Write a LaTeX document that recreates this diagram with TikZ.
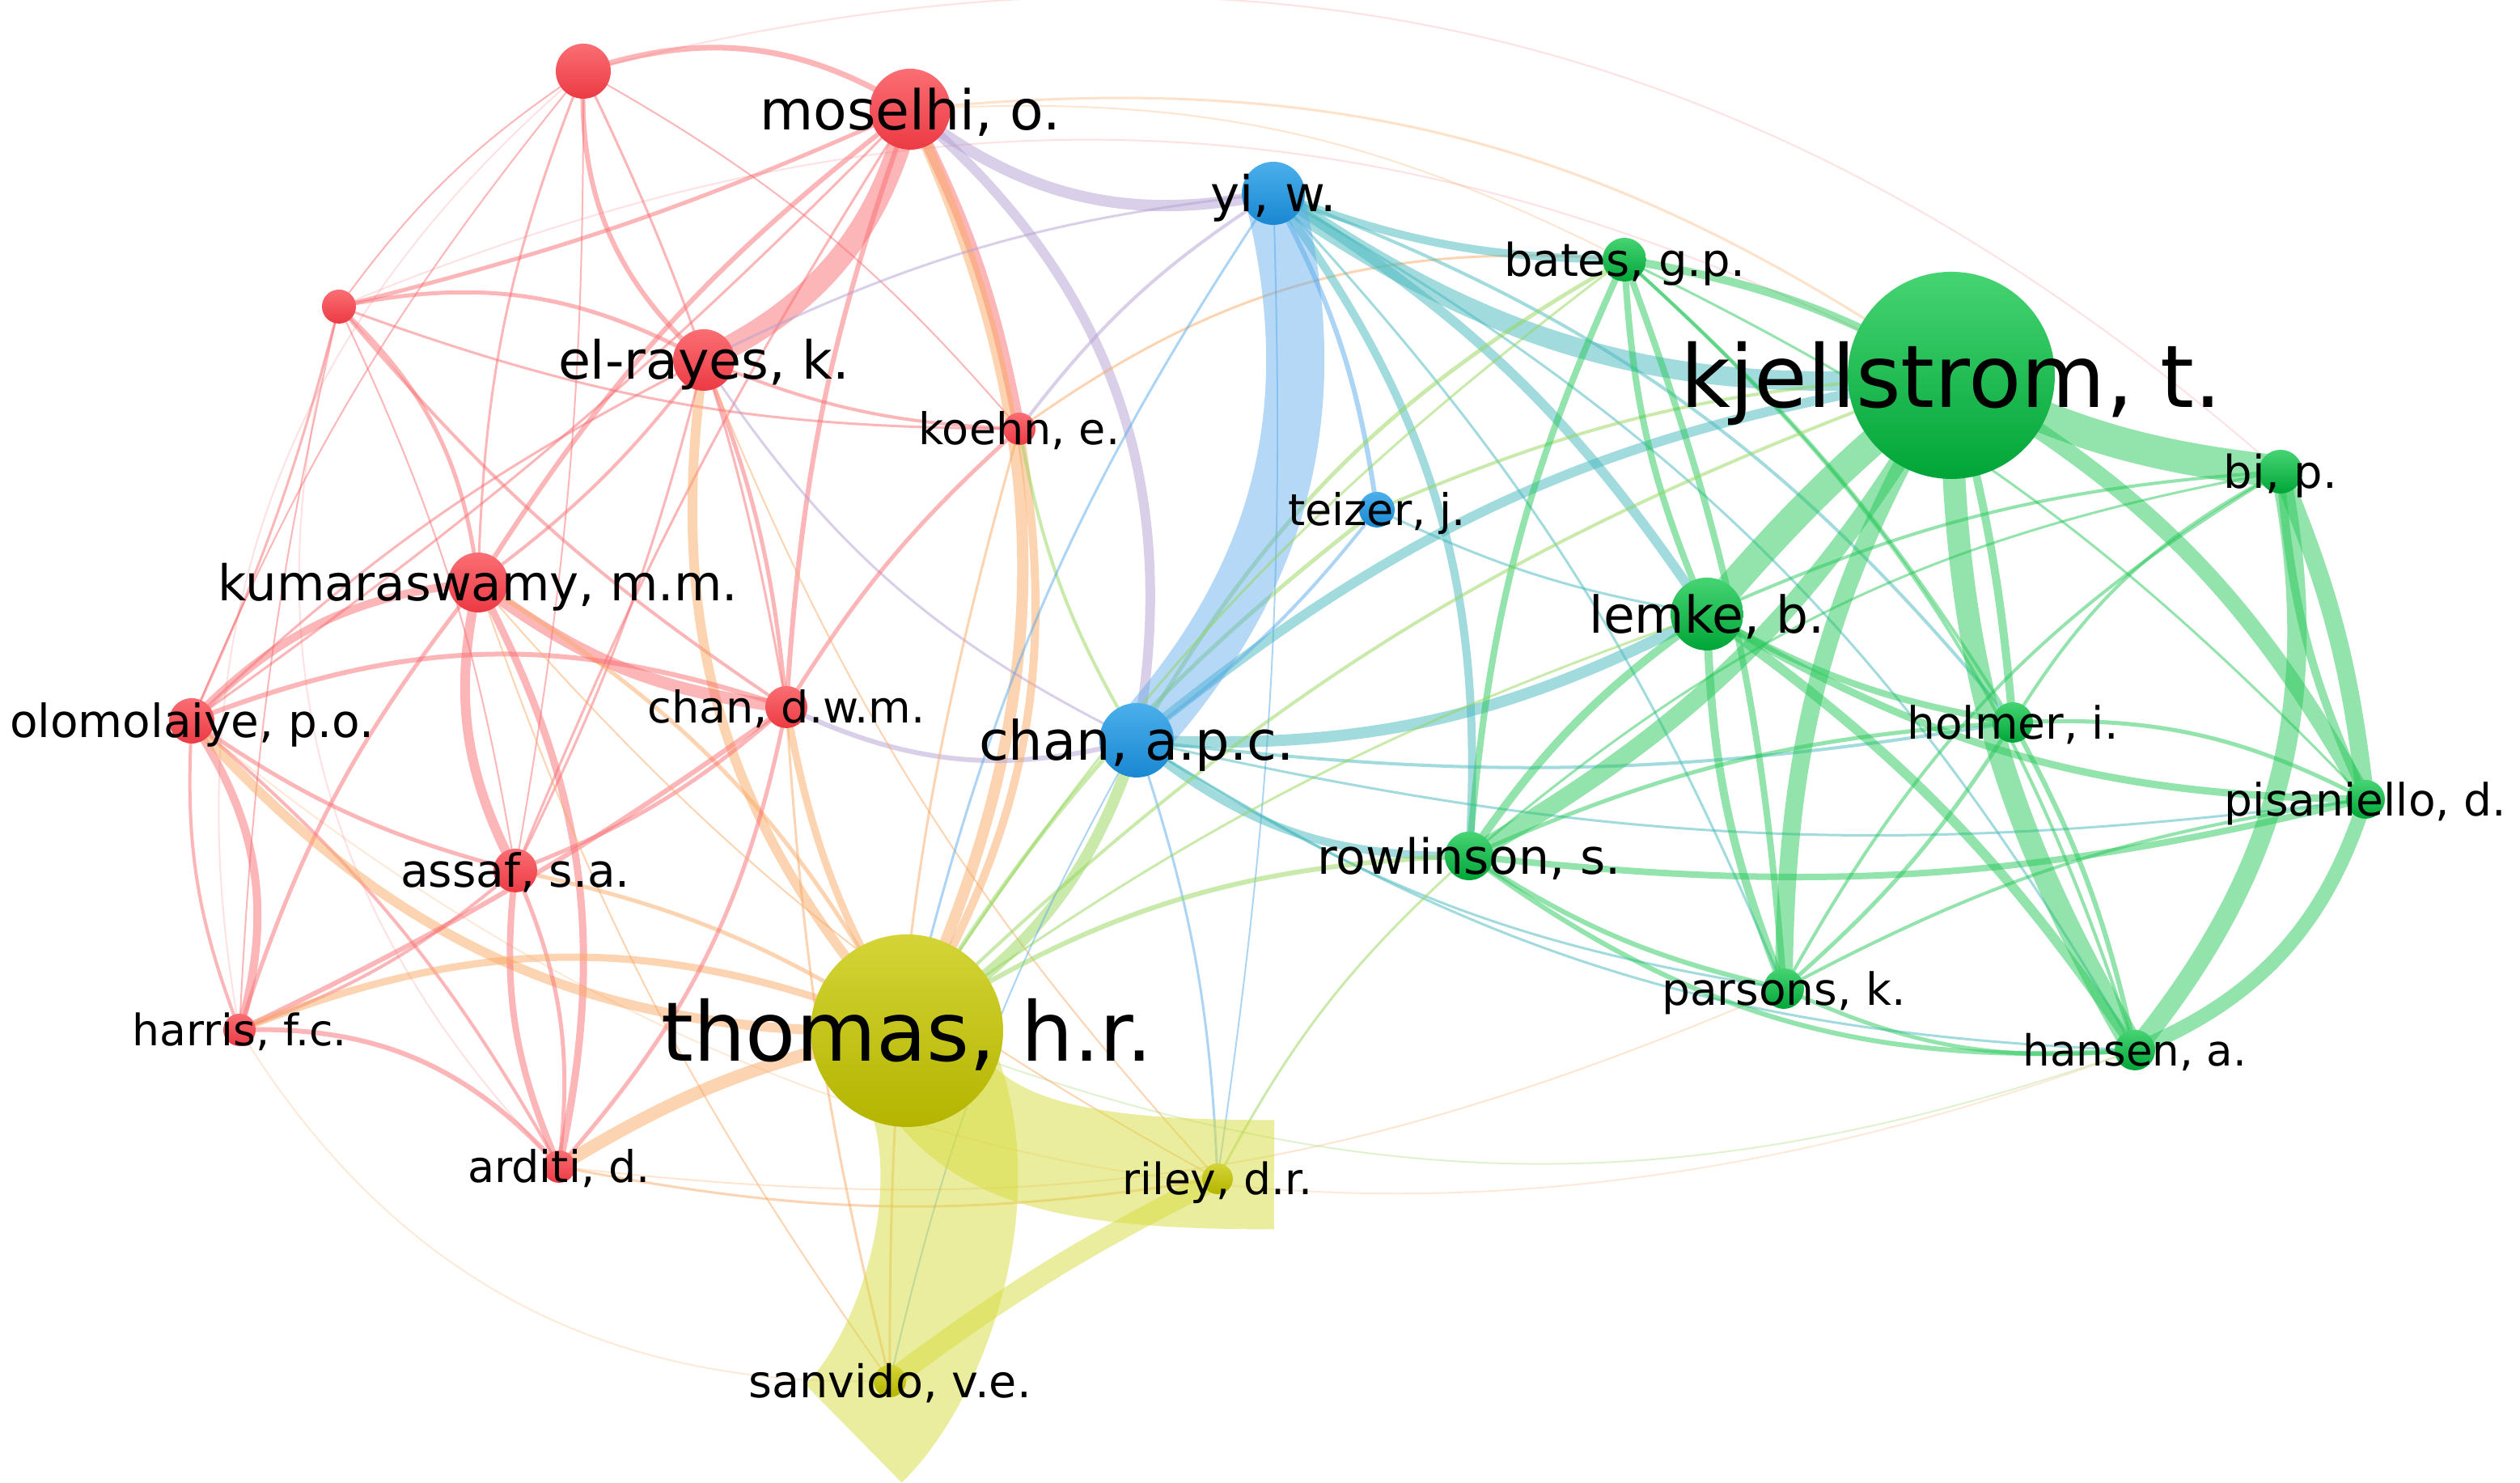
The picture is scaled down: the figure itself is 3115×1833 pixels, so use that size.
\documentclass[tikz,border=0pt]{standalone}
\usepackage{fontspec}
\setmainfont{DejaVu Sans}
\usetikzlibrary{calc}
\pgfdeclarelayer{edges}
\pgfsetlayers{edges,main}
\definecolor{nR}{RGB}{236,58,68}
\definecolor{nRt}{RGB}{250,110,115}
\definecolor{nB}{RGB}{25,135,210}
\definecolor{nBt}{RGB}{75,175,235}
\definecolor{nG}{RGB}{0,165,55}
\definecolor{nGt}{RGB}{70,212,115}
\definecolor{nY}{RGB}{180,180,0}
\definecolor{nYt}{RGB}{212,212,55}
\definecolor{eR}{RGB}{250,110,115}
\definecolor{eO}{RGB}{250,170,100}
\definecolor{eP}{RGB}{180,160,210}
\definecolor{eB}{RGB}{90,170,235}
\definecolor{eT}{RGB}{70,185,190}
\definecolor{eG}{RGB}{40,200,90}
\definecolor{eL}{RGB}{150,215,90}
\definecolor{eY}{RGB}{215,220,60}
\newcommand\vn[5]{\node[vnode,top color=n#5t,bottom color=n#5,minimum size=#4*0.1pt] (#1) at (#2,#3) {};}
\newcommand\vl[3]{\pgfmathsetmacro\labfs{#2/20}\node[font=\fontsize{\labfs}{\labfs}\selectfont,anchor=base,inner sep=0pt] (#1-l) at ($(#1.center)+(0,0.37*#2)$) {#3};}
\newcommand\lk[4][]{\draw[lnk,#1] (#2.center) to[#4] (#3.center);}
\begin{document}
\begin{tikzpicture}[x=0.05pt,y=-0.05pt,
  vnode/.style={circle,inner sep=0pt,draw=none},
  lnk/.style={line cap=butt,draw opacity=0.5},
  lw/.style={line width=#1*0.05pt}]
\useasboundingbox (0,0) rectangle (3115,1833);
% ---------------- nodes ----------------
\vn{R1}{721}{88}{34}{R}
\vn{moselhi}{1125}{135}{50}{R}
\vn{R2}{419}{379}{21}{R}
\vn{elrayes}{870}{445}{38}{R}
\vn{koehn}{1260}{530}{20}{R}
\vn{kumar}{591}{720}{37}{R}
\vn{chandwm}{972}{874}{26}{R}
\vn{olom}{237}{891}{28}{R}
\vn{assaf}{637}{1076}{27}{R}
\vn{harris}{296}{1273}{20}{R}
\vn{arditi}{691}{1442}{20}{R}
\vn{yi}{1574}{239}{39}{B}
\vn{teizer}{1702}{630}{22}{B}
\vn{chanapc}{1405}{915}{46}{B}
\vn{bates}{2008}{321}{27}{G}
\vn{kjell}{2412}{464}{128}{G}
\vn{bi}{2819}{583}{27}{G}
\vn{lemke}{2110}{759}{45}{G}
\vn{holmer}{2488}{893}{25}{G}
\vn{pisan}{2924}{988}{24}{G}
\vn{rowl}{1816}{1058}{30}{G}
\vn{parsons}{2205}{1222}{25}{G}
\vn{hansen}{2639}{1298}{25}{G}
\vn{thomas}{1121}{1274}{119}{Y}
\vn{riley}{1505}{1457}{19}{Y}
\vn{sanvido}{1100}{1707}{20}{Y}
\coordinate (rileyend) at (1575,1452);
\coordinate (sanvidoend) at (1055,1772);
% ---------------- labels ----------------
\vl{moselhi}{68}{moselhi, o.}
\vl{yi}{61}{yi, w.}
\vl{bates}{56}{bates, g.p.}
\vl{kjell}{107}{kjellstrom, t.}
\vl{elrayes}{65}{el-rayes, k.}
\vl{koehn}{54}{koehn, e.}
\vl{bi}{56}{bi, p.}
\vl{teizer}{54}{teizer, j.}
\vl{kumar}{61}{kumaraswamy, m.m.}
\vl{lemke}{63}{lemke, b.}
\vl{chandwm}{54}{chan, d.w.m.}
\vl{olom}{56.5}{olomolaiye, p.o.}
\vl{holmer}{55}{holmer, i.}
\vl{chanapc}{67}{chan, a.p.c.}
\vl{pisan}{55}{pisaniello, d.}
\vl{assaf}{56.5}{assaf, s.a.}
\vl{rowl}{60}{rowlinson, s.}
\vl{parsons}{55}{parsons, k.}
\vl{harris}{53.6}{harris, f.c.}
\vl{thomas}{101.6}{thomas, h.r.}
\vl{hansen}{53}{hansen, a.}
\vl{arditi}{54}{arditi, d.}
\vl{riley}{53.5}{riley, d.r.}
\vl{sanvido}{55.6}{sanvido, v.e.}
% ---------------- edges ----------------
\begin{pgfonlayer}{edges}
\fill[white] (0,0) rectangle (3115,1833);
% faint long arcs
\lk[eR,lw=2,draw opacity=0.2]{R2}{kjell}{bend left=25}
\lk[eR,lw=2,draw opacity=0.2]{R1}{bi}{bend left=28}
\lk[eO,lw=2,draw opacity=0.25]{olom}{hansen}{bend right=30}
\lk[eO,lw=2,draw opacity=0.25]{harris}{sanvido}{bend right=30}
\lk[eR,lw=2,draw opacity=0.2]{R2}{arditi}{bend right=30}
\lk[eR,lw=2,draw opacity=0.2]{R1}{harris}{bend right=30}
\lk[eO,lw=3,draw opacity=0.35]{moselhi}{kjell}{bend left=20}
\lk[eO,lw=2,draw opacity=0.3]{moselhi}{bates}{bend left=15}
\lk[eL,lw=2,draw opacity=0.3]{thomas}{hansen}{bend right=20}
\lk[eO,lw=2,draw opacity=0.3]{arditi}{parsons}{bend right=15}
% red cluster
\lk[eR,lw=7]{R1}{moselhi}{bend left=25}
\lk[eR,lw=6]{R1}{elrayes}{bend right=25}
\lk[eR,lw=3]{R1}{kumar}{bend right=10}
\lk[eR,lw=2]{R1}{R2}{bend right=10}
\lk[eR,lw=2]{R1}{olom}{bend right=8}
\lk[eR,lw=3]{R1}{chandwm}{bend left=8}
\lk[eR,lw=2]{R1}{koehn}{bend left=10}
\lk[eR,lw=2]{R1}{assaf}{bend left=5}
\lk[eR,lw=5]{R2}{elrayes}{bend left=20}
\lk[eR,lw=5]{R2}{moselhi}{bend right=5}
\lk[eR,lw=5]{R2}{kumar}{bend left=20}
\lk[eR,lw=3]{R2}{olom}{bend left=5}
\lk[eR,lw=4]{R2}{chandwm}{bend right=8}
\lk[eR,lw=3]{R2}{koehn}{bend right=10}
\lk[eR,lw=2]{R2}{assaf}{bend left=8}
\lk[eR,lw=2]{R2}{harris}{bend right=5}
\lk[eR,lw=28]{elrayes}{moselhi}{bend right=25}
\lk[eR,lw=14]{moselhi}{koehn}{bend left=8}
\lk[eR,lw=6]{moselhi}{kumar}{bend right=10}
\lk[eR,lw=6]{moselhi}{chandwm}{bend right=8}
\lk[eR,lw=3]{moselhi}{olom}{bend left=5}
\lk[eR,lw=3]{moselhi}{assaf}{bend right=5}
\lk[eO,lw=14]{moselhi}{thomas}{bend left=25}
\lk[eP,lw=14]{moselhi}{yi}{bend right=25}
\lk[eP,lw=12]{moselhi}{chanapc}{bend left=30}
\lk[eR,lw=4]{elrayes}{kumar}{bend left=8}
\lk[eR,lw=5]{elrayes}{chandwm}{bend left=8}
\lk[eO,lw=12]{elrayes}{thomas}{bend right=25}
\lk[eR,lw=4]{elrayes}{koehn}{bend right=10}
\lk[eP,lw=3]{elrayes}{yi}{bend left=10}
\lk[eP,lw=3]{elrayes}{chanapc}{bend right=15}
\lk[eR,lw=3]{elrayes}{olom}{bend right=8}
\lk[eR,lw=3]{elrayes}{assaf}{bend left=6}
\lk[eR,lw=10]{olom}{kumar}{bend left=20}
\lk[eR,lw=15]{kumar}{chandwm}{bend right=15}
\lk[eR,lw=12]{kumar}{assaf}{bend right=20}
\lk[eR,lw=9]{kumar}{arditi}{bend left=20}
\lk[eR,lw=5]{kumar}{harris}{bend right=10}
\lk[eO,lw=5]{kumar}{thomas}{bend left=15}
\lk[eR,lw=10]{olom}{harris}{bend left=25}
\lk[eR,lw=4]{olom}{harris}{bend right=12}
\lk[eR,lw=5]{olom}{assaf}{bend right=10}
\lk[eR,lw=4]{olom}{arditi}{bend left=10}
\lk[eR,lw=6]{olom}{chandwm}{bend left=20}
\lk[eO,lw=12]{olom}{thomas}{bend right=25}
\lk[eR,lw=4]{assaf}{harris}{bend left=10}
\lk[eR,lw=8]{assaf}{arditi}{bend right=15}
\lk[eR,lw=5]{assaf}{arditi}{bend left=15}
\lk[eR,lw=5]{assaf}{chandwm}{bend right=10}
\lk[eO,lw=5]{assaf}{thomas}{bend left=10}
\lk[eR,lw=6]{harris}{arditi}{bend left=25}
\lk[eR,lw=6]{harris}{chandwm}{bend right=5}
\lk[eO,lw=9]{harris}{thomas}{bend left=22}
\lk[eO,lw=16]{arditi}{thomas}{bend left=10}
\lk[eR,lw=5]{arditi}{chandwm}{bend right=15}
\lk[eO,lw=9]{chandwm}{thomas}{bend right=10}
\lk[eP,lw=6]{chandwm}{chanapc}{bend right=20}
\lk[eR,lw=5]{chandwm}{koehn}{bend left=8}
\lk[eO,lw=10]{koehn}{thomas}{bend left=20}
\lk[eL,lw=4]{koehn}{chanapc}{bend right=10}
\lk[eO,lw=3]{koehn}{bates}{bend left=20}
\lk[eP,lw=4]{koehn}{yi}{bend left=10}
\lk[eO,lw=3]{arditi}{riley}{bend right=10}
\lk[eO,lw=3]{sanvido}{koehn}{bend left=8}
\lk[eO,lw=3]{sanvido}{chandwm}{bend left=5}
\lk[eO,lw=2]{sanvido}{kumar}{bend left=8}
\lk[eO,lw=2]{kumar}{riley}{bend right=10}
\lk[eO,lw=2]{elrayes}{riley}{bend right=10}
% blue cluster
\lk[eB,lw=6]{yi}{teizer}{bend left=10}
\lk[eT,lw=24]{yi}{kjell}{bend right=20}
\lk[eT,lw=10]{yi}{bates}{bend right=10}
\lk[eT,lw=12]{yi}{lemke}{bend left=12}
\lk[eT,lw=10]{yi}{rowl}{bend left=20}
\lk[eT,lw=4]{yi}{holmer}{bend left=15}
\lk[eT,lw=3]{yi}{hansen}{bend left=15}
\lk[eT,lw=3]{yi}{parsons}{bend left=10}
\lk[eB,lw=3]{yi}{thomas}{bend right=10}
\lk[eB,lw=2]{yi}{riley}{bend left=5}
\lk[eT,lw=14]{chanapc}{lemke}{bend right=15}
\lk[eT,lw=12]{chanapc}{kjell}{bend left=15}
\lk[eT,lw=10]{chanapc}{rowl}{bend right=20}
\lk[eL,lw=14]{chanapc}{thomas}{bend left=20}
\lk[eL,lw=5]{chanapc}{bates}{bend left=15}
\lk[eT,lw=4]{chanapc}{holmer}{bend right=8}
\lk[eT,lw=3]{chanapc}{hansen}{bend right=15}
\lk[eT,lw=3]{chanapc}{pisan}{bend right=10}
\lk[eB,lw=3]{chanapc}{riley}{bend left=8}
\lk[eB,lw=2]{chanapc}{sanvido}{bend right=8}
\lk[eB,lw=4]{chanapc}{teizer}{bend right=8}
\lk[eT,lw=3]{chanapc}{parsons}{bend right=12}
\lk[eL,lw=4]{teizer}{kjell}{bend left=10}
\lk[eT,lw=3]{teizer}{lemke}{bend right=8}
\lk[eL,lw=5]{teizer}{thomas}{bend right=10}
\lk[eB,lw=72,draw opacity=0.45]{chanapc}{yi}{bend right=28}
% green cluster
\lk[eG,lw=35]{kjell}{lemke}{bend right=5}
\lk[eG,lw=22]{rowl}{kjell}{bend right=15}
\lk[eG,lw=22]{kjell}{parsons}{bend right=15}
\lk[eG,lw=28]{kjell}{hansen}{bend right=15}
\lk[eG,lw=10]{kjell}{holmer}{bend left=5}
\lk[eG,lw=40]{kjell}{bi}{bend right=10}
\lk[eG,lw=20]{kjell}{pisan}{bend left=15}
\lk[eG,lw=10]{bates}{kjell}{bend left=10}
\lk[eG,lw=22]{bi}{pisan}{bend left=8}
\lk[eG,lw=10]{bi}{pisan}{bend right=10}
\lk[eG,lw=24]{bi}{hansen}{bend left=25}
\lk[eG,lw=4]{bi}{holmer}{bend right=15}
\lk[eG,lw=4]{lemke}{bi}{bend left=10}
\lk[eG,lw=4]{bi}{parsons}{bend right=15}
\lk[eG,lw=3]{bi}{rowl}{bend right=15}
\lk[eG,lw=8]{lemke}{holmer}{bend right=10}
\lk[eG,lw=12]{lemke}{hansen}{bend left=10}
\lk[eG,lw=10]{lemke}{parsons}{bend right=10}
\lk[eG,lw=9]{lemke}{pisan}{bend right=15}
\lk[eG,lw=10]{rowl}{lemke}{bend left=10}
\lk[eG,lw=8]{bates}{lemke}{bend right=10}
\lk[eG,lw=5]{holmer}{parsons}{bend left=8}
\lk[eG,lw=6]{holmer}{hansen}{bend left=8}
\lk[eG,lw=5]{rowl}{holmer}{bend left=10}
\lk[eG,lw=5]{holmer}{pisan}{bend left=15}
\lk[eG,lw=18]{pisan}{hansen}{bend left=25}
\lk[eG,lw=8]{rowl}{pisan}{bend right=10}
\lk[eG,lw=6]{rowl}{hansen}{bend right=20}
\lk[eG,lw=6]{rowl}{parsons}{bend right=10}
\lk[eG,lw=5]{parsons}{hansen}{bend right=15}
\lk[eG,lw=8]{bates}{parsons}{bend left=8}
\lk[eG,lw=8]{bates}{rowl}{bend right=10}
\lk[eG,lw=4]{bates}{hansen}{bend left=15}
\lk[eG,lw=4]{bates}{holmer}{bend left=8}
\lk[eG,lw=3]{bates}{pisan}{bend left=10}
\lk[eG,lw=4]{parsons}{pisan}{bend left=10}
\lk[eL,lw=6]{thomas}{rowl}{bend left=15}
\lk[eL,lw=3]{riley}{rowl}{bend left=10}
\lk[eL,lw=4]{thomas}{kjell}{bend left=12}
\lk[eL,lw=3]{thomas}{lemke}{bend left=8}
\lk[eL,lw=3]{thomas}{bates}{bend left=10}
% yellow cluster
\lk[eY,lw=25]{sanvido}{riley}{bend left=5}
\draw[lnk,eY,lw=135] (thomas.center) .. controls +(59,146) and +(-275,0) .. (rileyend);
\draw[lnk,eY,lw=170] (thomas.center) .. controls +(109,150) and +(95,-92) .. (sanvidoend);
\end{pgfonlayer}
\end{tikzpicture}
\end{document}
